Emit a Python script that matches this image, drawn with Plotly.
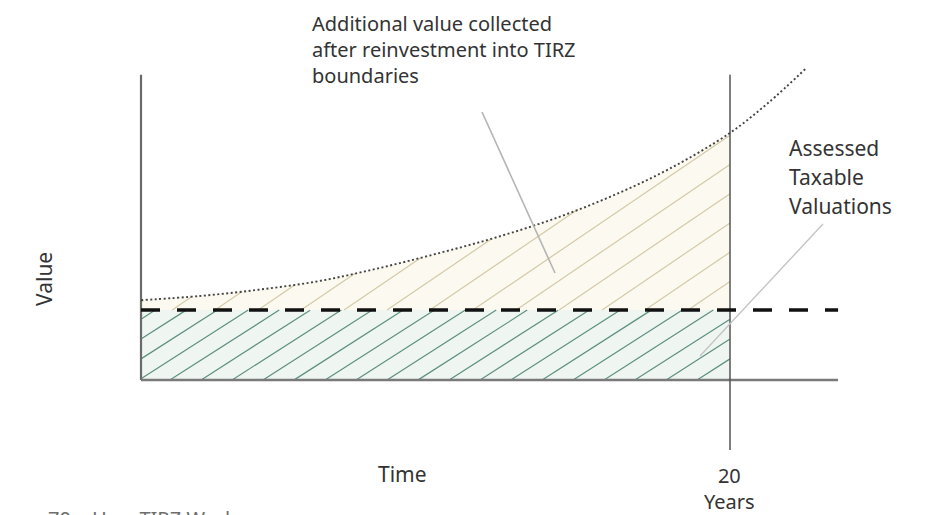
import numpy as np
import plotly.graph_objects as go

W, H = 925, 515

# Assessed value index over the life of the zone (base year value = 1)
years = [0, 2, 4, 6, 8, 10, 12, 14, 16, 18, 20, 21.3, 22.6]
value = [1.14, 1.20, 1.29, 1.41, 1.59, 1.80, 2.03, 2.30, 2.63, 3.03, 3.53, 3.96, 4.46]
base_value = 1.0
term_years = 20
time_axis_end = 23.67
value_axis_top = 4.36

x_label = "Time"
y_label = "Value"
term_label = ["20", "Years"]
increment_note = ["Additional value collected", "after reinvestment into TIRZ", "boundaries"]
base_note = ["Assessed", "Taxable", "Valuations"]
footer = ["70", "How TIRZ Works"]

# pixel <-> data mapping of the drawing area
X0_PX, PX_PER_YEAR = 141, 29.45
Y0_PX, PX_PER_UNIT = 380, 70.0


def px_to_x(px):
    return (px - X0_PX) / PX_PER_YEAR


def px_to_y(py):
    return (Y0_PX - py) / PX_PER_UNIT


def curve(xs):
    return np.interp(xs, years, value)


def hatch(xlo, xhi, lower, upper, slope, step, anchor, ref_y):
    """Diagonal hatch lines y = ref_y + slope*(x - c), clipped to lower<=y<=upper."""
    xs = np.linspace(xlo, xhi, 2400)
    lo, hi = lower(xs), upper(xs)
    span = (hi.max() - lo.min()) / slope
    k_min = int(np.floor((xlo - span - anchor) / step)) - 1
    k_max = int(np.ceil((xhi + span - anchor) / step)) + 1
    hx, hy = [], []
    for k in range(k_min, k_max + 1):
        c = anchor + k * step
        ys = ref_y + slope * (xs - c)
        inside = np.where((ys >= lo) & (ys <= hi))[0]
        if len(inside) < 2:
            continue
        i0, i1 = inside[0], inside[-1]
        hx += [xs[i0], xs[i1], None]
        hy += [ys[i0], ys[i1], None]
    return hx, hy


fig = go.Figure()

# base (frozen) value block
fig.add_trace(go.Scatter(
    x=[0, term_years, term_years, 0, 0], y=[0, 0, base_value, base_value, 0],
    mode="lines", fill="toself", fillcolor="#eff6f2", line=dict(width=0),
    hoverinfo="skip"))

# incremental value above the base
in_term = [(x, v) for x, v in zip(years, value) if x <= term_years]
fig.add_trace(go.Scatter(
    x=[0] + [p[0] for p in in_term] + [term_years, 0],
    y=[base_value] + [p[1] for p in in_term] + [base_value, base_value],
    mode="lines", fill="toself", fillcolor="#fcfaf0", line=dict(width=0),
    hoverinfo="skip"))

# hatching
lx, ly = hatch(0, term_years,
               lambda xs: np.zeros_like(xs), lambda xs: np.full_like(xs, base_value),
               slope=0.64 * PX_PER_YEAR / PX_PER_UNIT, step=31 / PX_PER_YEAR,
               anchor=px_to_x(573), ref_y=0)
fig.add_trace(go.Scatter(x=lx, y=ly, mode="lines",
                         line=dict(color="#5f8f82", width=1.2), hoverinfo="skip"))

ux, uy = hatch(0, term_years,
               lambda xs: np.full_like(xs, base_value), curve,
               slope=0.68 * PX_PER_YEAR / PX_PER_UNIT, step=43 / PX_PER_YEAR,
               anchor=px_to_x(688), ref_y=base_value)
fig.add_trace(go.Scatter(x=ux, y=uy, mode="lines",
                         line=dict(color="#d3caa8", width=1.2), hoverinfo="skip"))

# axes drawn as lines
fig.add_trace(go.Scatter(x=[0, 0], y=[value_axis_top, 0], mode="lines",
                         line=dict(color="#6a6a6a", width=2.2), hoverinfo="skip"))
fig.add_trace(go.Scatter(x=[0, time_axis_end], y=[0, 0], mode="lines",
                         line=dict(color="#7a7a7a", width=2.4), hoverinfo="skip"))
fig.add_trace(go.Scatter(x=[term_years, term_years], y=[value_axis_top, px_to_y(450)],
                         mode="lines", line=dict(color="#555555", width=1.5),
                         hoverinfo="skip"))

# base value line
fig.add_trace(go.Scatter(x=[0, time_axis_end], y=[base_value, base_value], mode="lines",
                         line=dict(color="#111111", width=3.6, dash="19px,17px"),
                         hoverinfo="skip"))

# growth curve
fig.add_trace(go.Scatter(x=years, y=value, mode="lines", line_shape="spline",
                         line=dict(color="#444444", width=1.9, dash="2px,2.5px"),
                         hoverinfo="skip"))

# leader lines
shapes = [
    dict(type="line", xref="x", yref="y",
         x0=px_to_x(482), y0=px_to_y(112), x1=px_to_x(555), y1=px_to_y(273),
         line=dict(color="#b4b4b4", width=1.6)),
    dict(type="line", xref="x", yref="y",
         x0=px_to_x(823), y0=px_to_y(224), x1=px_to_x(700), y1=px_to_y(356),
         line=dict(color="#c4c4c4", width=1.4)),
]

FONT = "Noto Sans"
TXT = "#333333"
SIZE = 21


def note(text, px, py, size=SIZE, xanchor="left", yanchor="middle", angle=0,
         color=TXT, align="left"):
    return dict(text=text, x=px / W, y=1 - py / H, xref="paper", yref="paper",
                xanchor=xanchor, yanchor=yanchor, showarrow=False, textangle=angle,
                align=align, font=dict(family=FONT, size=size, color=color))


annotations = [note("<br>".join(increment_note), 310, 50, size=20)]
for line, cy in zip(base_note, [148, 177, 206]):
    annotations.append(note(line, 787, cy))
annotations += [
    note(y_label, 44, 279, xanchor="center", angle=-90),
    note(x_label, 402, 474, xanchor="center"),
    note("<br>".join(term_label), 729, 488, size=20, xanchor="center", align="center"),
    note(footer[0], 46, 503, size=20, yanchor="top", color="#6e6e6e"),
    note(footer[1], 90, 503, size=20, yanchor="top", color="#6e6e6e"),
]

fig.update_layout(
    width=W, height=H,
    margin=dict(l=0, r=0, t=0, b=0),
    paper_bgcolor="white", plot_bgcolor="white",
    showlegend=False,
    xaxis=dict(visible=False, range=[px_to_x(0), px_to_x(W)], fixedrange=True),
    yaxis=dict(visible=False, range=[px_to_y(H), px_to_y(0)], fixedrange=True),
    shapes=shapes,
    annotations=annotations,
)

fig.write_html("out.html")
